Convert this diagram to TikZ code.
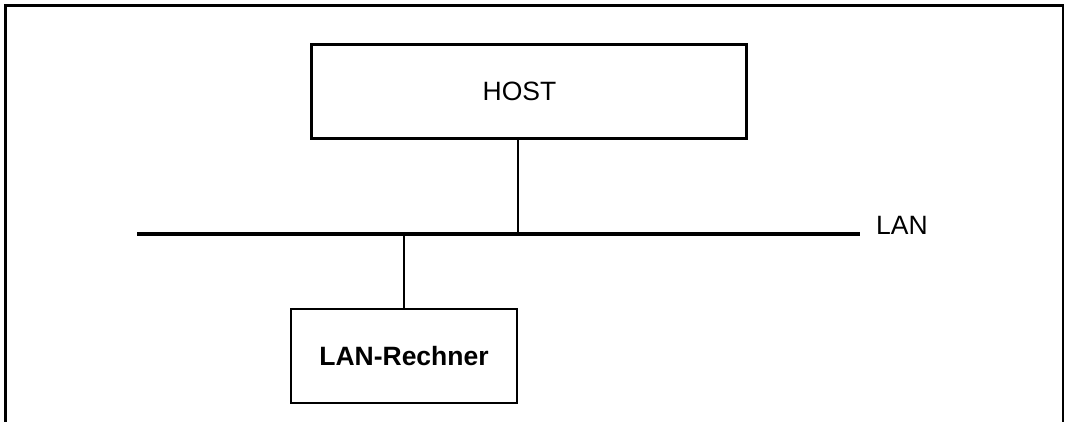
\documentclass[tikz,border=0pt]{standalone}
\usepackage{fontspec}
\setmainfont{Liberation Sans}

\begin{document}
\begin{tikzpicture}[x=1pt,y=-1pt,
    box/.style={draw,line width=2.2pt,rectangle,inner sep=0pt},
    lbl/.style={font=\fontsize{26.5}{31}\selectfont}]
    \useasboundingbox (0,0) rectangle (1066,422);
    % Rahmen
    \draw[line width=2.2pt] (5.5,422) -- (5.5,5.5) -- (1063,5.5) -- (1063,422);
    \node[box,minimum width=435pt,minimum height=94pt,
        label={[lbl,xshift=-9.5pt]center:HOST}] (host) at (529,91.5) {};
    \node[box,minimum width=226.5pt,minimum height=94pt,font=\fontsize{26.5}{31}\selectfont\bfseries]
        (rechner) at (404,356) {LAN-Rechner};
    \coordinate (busA) at (137,234);
    \coordinate (busB) at (860,234);
    \node[lbl,anchor=west,inner sep=0pt] (lan) at (876,225) {LAN};
    \draw[line width=4pt] (busA) -- (busB);
    \draw[line width=2.2pt] (host.south -| 517.7,0) -- (517.7,234);
    \draw[line width=2.2pt] (rechner.north) -- (404,234);
\end{tikzpicture}
\end{document}
